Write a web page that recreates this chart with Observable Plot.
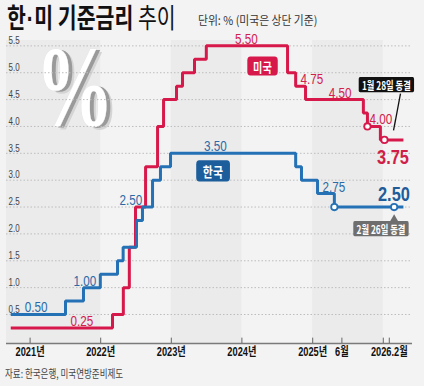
<!DOCTYPE html>
<html><head><meta charset="utf-8">
<script src="https://cdn.jsdelivr.net/npm/d3@7"></script>
<script src="https://cdn.jsdelivr.net/npm/@observablehq/plot@0.6"></script>
<style>
html,body{margin:0;padding:0;background:#f3f3f3;}
#wrap{position:relative;width:424px;height:386px;overflow:hidden;background:#f3f3f3;}
#title{position:absolute;left:7px;top:3px;font-family:"Noto Sans CJK KR",sans-serif;font-size:27px;line-height:27px;color:#111;white-space:nowrap;transform:scaleX(0.76);transform-origin:0 0;}
#title b{font-weight:700;}
#title .dot{font-family:"Liberation Sans",sans-serif;font-weight:700;margin:0 1px;}
#title .reg{font-weight:400;}
#unit{position:absolute;left:198px;top:14px;font-family:"Noto Sans CJK KR",sans-serif;font-size:12px;line-height:12px;color:#333;white-space:nowrap;transform:scaleX(0.9);transform-origin:0 0;}
#chart{position:absolute;left:0;top:30px;}
#source{position:absolute;left:5px;top:368px;font-family:"Noto Sans CJK KR",sans-serif;font-size:11.5px;line-height:11.5px;color:#444;white-space:nowrap;transform:scaleX(0.74);transform-origin:0 0;}
</style></head>
<body>
<div id="wrap">
  <div id="chart"></div>
  <div id="title"><b>한<span class="dot">·</span>미 기준금리</b> <span class="reg">추이</span></div>
  <div id="unit">단위: % (미국은 상단 기준)</div>
  <div id="source">자료: 한국은행, 미국연방준비제도</div>
</div>
<script>
const parse = d3.utcParse("%Y-%m-%d");

// Korea base rate (step changes)
const krDates = ["2020-09-23","2021-07-03","2021-10-04","2021-12-30","2022-03-29","2022-04-27","2022-07-05","2022-08-05","2022-09-26","2022-11-06","2022-12-28","2024-10-05","2024-11-04","2025-01-26","2025-04-23","2026-04-15"];
const krRates = [0.50,0.75,1.00,1.25,1.50,1.75,2.25,2.50,3.00,3.25,3.50,3.25,3.00,2.75,2.50,2.50];
// US federal funds rate (upper bound)
const usDates = ["2020-09-23","2022-03-03","2022-04-28","2022-05-29","2022-06-30","2022-08-21","2022-10-22","2022-11-22","2023-01-28","2023-02-28","2023-05-01","2023-07-01","2024-08-24","2024-10-05","2024-11-25","2025-09-20","2025-10-11","2025-12-17","2026-04-15"];
const usRates = [0.25,0.50,1.00,1.75,2.50,3.25,4.00,4.50,4.75,5.00,5.25,5.50,5.00,4.75,4.50,4.25,4.00,3.75,3.75];

// highlighted points
const krDotDates = ["2025-04-23","2026-02-26"];
const krDotRates = [2.50,2.50];
const usDotDates = ["2025-10-11","2026-01-07"];
const usDotRates = [4.00,3.75];

// value labels
const usLabelTexts = ["5.50","4.75","4.50","4.00","0.25"];
const usLabelDates = ["2024-01-24","2024-10-30","2025-03-25","2025-10-22","2021-07-29"];
const usLabelRates = [5.50,4.75,4.50,4.00,0.25];
const krLabelTexts = ["3.50","2.75","2.50","1.00","0.50"];
const krLabelDates = ["2023-08-17","2025-02-21","2022-04-08","2021-08-14","2020-12-04"];
const krLabelRates = [3.50,2.75,2.50,1.00,0.50];
const usLast = {date:"2026-02-20", rate:3.75, text:"3.75"};
const krLast = {date:"2026-02-25", rate:2.50, text:"2.50"};

// badges / notes
const badgeTexts = ["미국","한국","1월 28일 동결","2월 26일 동결"];
const badgeDates = ["2024-04-16","2023-08-04","2026-01-17","2025-12-20"];
const badgeRates = [5.088,3.143,4.753,2.072];

// axes
const yTicks = [0.5,1.0,1.5,2.0,2.5,3.0,3.5,4.0,4.5,5.0,5.5];
const xTickDates = ["2021-01-01","2022-01-01","2023-01-01","2024-01-01","2025-01-01","2025-06-01","2026-01-01","2026-02-01"];
const xTickLabels = ["2021년","2022년","2023년","2024년","2025년","6월","","2026.2월"];
const bandStarts = ["2020-09-01","2023-01-01","2025-01-01"];
const bandEnds = ["2022-01-01","2024-01-01","2026-01-01"];
const xDomain = ["2020-09-01","2026-06-01"];
const yDomain = [-0.04, 5.6];

const RED = "#d7184a", BLUE = "#2471b5";
const kr = krDates.map((d,i)=>({date:parse(d), rate:krRates[i]}));
const us = usDates.map((d,i)=>({date:parse(d), rate:usRates[i]}));
const krDots = krDotDates.map((d,i)=>({date:parse(d), rate:krDotRates[i]}));
const usDots = usDotDates.map((d,i)=>({date:parse(d), rate:usDotRates[i]}));
const usLabels = usLabelTexts.map((t,i)=>({text:t, date:parse(usLabelDates[i]), rate:usLabelRates[i]}));
const krLabels = krLabelTexts.map((t,i)=>({text:t, date:parse(krLabelDates[i]), rate:krLabelRates[i]}));
const badges = badgeTexts.map((t,i)=>({text:t, date:parse(badgeDates[i]), rate:badgeRates[i]}));
const bands = bandStarts.map((d,i)=>({start:parse(d), end:parse(bandEnds[i])}));
const xTicks = xTickDates.map(parse);
const labelByTime = new Map(xTicks.map((d,i)=>[+d, xTickLabels[i]]));
const pointer = {x1:parse("2026-02-23"), y1:3.925, x2:parse("2026-03-31"), y2:4.613};
const notch = [{date:parse("2026-02-26"), rate:2.268}];

const LAT = "'Liberation Sans','Noto Sans CJK KR',sans-serif";
const CJK = "'Noto Sans CJK KR',sans-serif";
const SERIF = "'Liberation Serif',serif";

const chart = Plot.plot({
  width: 424, height: 332,
  marginLeft: 6, marginRight: 12, marginTop: 10, marginBottom: 19,
  x: {type: "utc", domain: xDomain.map(parse)},
  y: {domain: yDomain},
  style: {background: "transparent", fontFamily: LAT, overflow: "visible"},
  marks: [
    Plot.rect(bands, {x1: "start", x2: "end", y1: yDomain[0], y2: yDomain[1], fill: "#ebebeb"}),
    Plot.text(["%"], {frameAnchor: "top-left", dx: 74, dy: 51, fontSize: 115, fontWeight: "bold", fontFamily: SERIF, fill: "#d4d4d4", textAnchor: "middle", lineAnchor: "middle"}),
    Plot.text(["%"], {frameAnchor: "top-left", dx: 72, dy: 49, fontSize: 115, fontWeight: "bold", fontFamily: SERIF, fill: "#9a9a9a", textAnchor: "middle", lineAnchor: "middle"}),
    Plot.text(["%"], {frameAnchor: "top-left", dx: 68, dy: 48, fontSize: 115, fontWeight: "bold", fontFamily: SERIF, fill: "#ffffff", stroke: "#e2e2e2", strokeWidth: 0.6, textAnchor: "middle", lineAnchor: "middle"}),
    Plot.ruleY(yTicks, {stroke: "#bdbdbd", strokeWidth: 1, strokeDasharray: "1.5,2"}),
    Plot.axisY({ticks: yTicks, tickSize: 0, tickPadding: 0, textAnchor: "start", dx: 2, dy: -5, fontSize: 10, fill: "#444", tickFormat: d => d.toFixed(1)}),
    Plot.ruleY([yDomain[0]], {stroke: "#7a7a7a", strokeWidth: 1.5}),
    Plot.ruleX(xTicks, {y1: yDomain[0], y2: 0.06, stroke: "#666", strokeWidth: 1}),
    Plot.axisX({ticks: xTicks, tickSize: 0, tickPadding: 4, fontSize: 12.5, fontWeight: "bold", fill: "#111", tickFormat: d => labelByTime.get(+d)}),
    Plot.line(us, {x: "date", y: "rate", curve: "step-after", stroke: RED, strokeWidth: 3, strokeLinejoin: "miter", strokeLinecap: "butt"}),
    Plot.line(kr, {x: "date", y: "rate", curve: "step-after", stroke: BLUE, strokeWidth: 3, strokeLinejoin: "miter", strokeLinecap: "butt"}),
    Plot.dot(usDots, {x: "date", y: "rate", r: 3.2, fill: "white", stroke: RED, strokeWidth: 1.8}),
    Plot.dot(krDots, {x: "date", y: "rate", r: 3.2, fill: "white", stroke: BLUE, strokeWidth: 1.8}),
    Plot.text(usLabels.slice(0,1), {x: "date", y: "rate", text: "text", textAnchor: "middle", lineAnchor: "bottom", dy: -2, fontSize: 15, fill: "#d2214d"}),
    Plot.text(usLabels.slice(1), {x: "date", y: "rate", text: "text", textAnchor: "start", lineAnchor: "bottom", dy: -2, fontSize: 15, fill: "#d2214d"}),
    Plot.text(krLabels.slice(0,1), {x: "date", y: "rate", text: "text", textAnchor: "middle", lineAnchor: "bottom", dy: -2, fontSize: 15, fill: "#2b6aa7"}),
    Plot.text(krLabels.slice(1), {x: "date", y: "rate", text: "text", textAnchor: "start", lineAnchor: "bottom", dy: -2, fontSize: 15, fill: "#2b6aa7"}),
    Plot.text([usLast], {x: d => parse(d.date), y: "rate", text: "text", textAnchor: "middle", lineAnchor: "top", dy: 9, fontSize: 21, fontWeight: "bold", fill: "#cf1f48"}),
    Plot.text([krLast], {x: d => parse(d.date), y: "rate", text: "text", textAnchor: "middle", lineAnchor: "bottom", dy: -6.5, fontSize: 21, fontWeight: "bold", fill: "#1f5c99"}),
    Plot.link([pointer], {x1: "x1", y1: "y1", x2: "x2", y2: "y2", stroke: "#111", strokeWidth: 1.3}),
    Plot.dot(notch, {x: "date", y: "rate", symbol: "triangle", r: 3.4, fill: "#6e6e6e"}),
    Plot.text(badges.slice(0,1), {x: "date", y: "rate", text: "text", textAnchor: "middle", lineAnchor: "middle", fontSize: 13, fontWeight: "bold", fontFamily: CJK, fill: "white"}),
    Plot.text(badges.slice(1,2), {x: "date", y: "rate", text: "text", textAnchor: "middle", lineAnchor: "middle", fontSize: 14, fontWeight: "bold", fontFamily: CJK, fill: "white"}),
    Plot.text(badges.slice(2), {x: "date", y: "rate", text: "text", textAnchor: "middle", lineAnchor: "middle", fontSize: 11.5, fontWeight: "bold", fontFamily: CJK, fill: "white"})
  ]
});
document.getElementById("chart").appendChild(chart);

// horizontal condensing of all chart text (narrow newspaper type); y attributes (em offsets) stay
chart.querySelectorAll("text").forEach(t => {
  const g = t.closest("g[aria-label]");
  const lab = g ? g.getAttribute("aria-label") : "";
  let s = 0.78;
  if (t.textContent === "%") s = 0.68;
  else if (lab === "x-axis tick label") s = 0.74;
  else if (lab === "y-axis tick label") s = 0.8;
  else if (/동결/.test(t.textContent)) s = 0.72;
  const xa = t.getAttribute("x");
  let x = 0;
  if (xa !== null && /^-?[\d.]+$/.test(xa)) { x = +xa; t.removeAttribute("x"); }
  const tr = t.getAttribute("transform") || "";
  t.setAttribute("transform", `${tr} translate(${x},0) scale(${s},1)`);
});

// boxes behind badge texts
const boxStyle = {
  "미국": {fill: RED, padX: 7.4, padY: 0, rx: 4},
  "한국": {fill: "#1c5d9c", padX: 8.5, padY: 0, rx: 4},
  "1월 28일 동결": {fill: "#111111", padX: 4.5, padY: -1, rx: 2},
  "2월 26일 동결": {fill: "#6e6e6e", padX: 4.5, padY: -1, rx: 2}
};
chart.querySelectorAll("text").forEach(t => {
  const st = boxStyle[t.textContent];
  if (!st) return;
  const b = t.getBBox();
  const r = document.createElementNS("http://www.w3.org/2000/svg", "rect");
  r.setAttribute("x", b.x - st.padX);
  r.setAttribute("y", b.y - st.padY);
  r.setAttribute("width", b.width + 2 * st.padX);
  r.setAttribute("height", b.height + 2 * st.padY);
  r.setAttribute("rx", st.rx);
  r.setAttribute("fill", st.fill);
  const tr = t.getAttribute("transform");
  if (tr) r.setAttribute("transform", tr);
  t.parentNode.insertBefore(r, t);
});
</script>
</body></html>
